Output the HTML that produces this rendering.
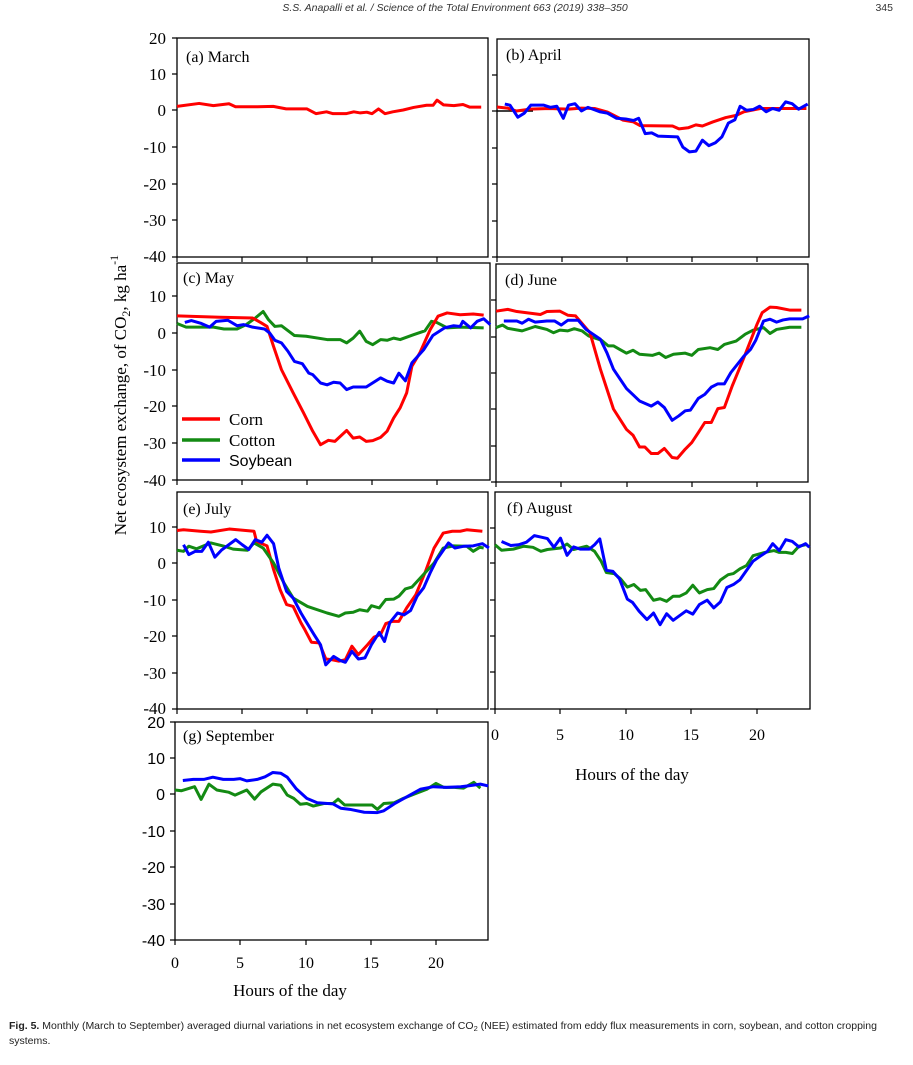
<!DOCTYPE html>
<html><head><meta charset="utf-8"><style>
html,body{margin:0;padding:0;background:#fff;}
svg{display:block;}
.s{font-family:"Liberation Serif",serif;}
.a{font-family:"Liberation Sans",sans-serif;}
.ln{fill:none;stroke-width:3;stroke-linejoin:round;}
</style></head><body>
<svg width="913" height="1065" viewBox="0 0 913 1065" xmlns="http://www.w3.org/2000/svg">
<rect width="913" height="1065" fill="#fff"/>
<text x="455" y="11" text-anchor="middle" font-family="Liberation Sans, sans-serif" font-style="italic" font-size="10.5" fill="#333">S.S. Anapalli et al. / Science of the Total Environment 663 (2019) 338–350</text>
<text x="893" y="11" text-anchor="end" font-family="Liberation Sans, sans-serif" font-size="10.5" fill="#333">345</text>

<g fill="none" stroke="#000" stroke-width="1.3">
<rect x="177" y="38" width="311" height="219"/>
<rect x="497" y="39" width="312" height="218"/>
<rect x="177" y="263" width="313" height="217"/>
<rect x="496" y="264" width="312" height="218"/>
<rect x="177" y="492" width="311" height="217"/>
<rect x="495" y="492" width="315" height="217"/>
<rect x="175" y="722" width="313" height="218"/>
</g>
<g stroke="#000" stroke-width="1.2">
<path d="M172 38h5M172 74h5M172 110h5M172 147h5M172 184h5M172 220h5M172 257h5"/>
<path d="M177 257v5M242 257v5M307 257v5M372 257v5M437 257v5"/>
<path d="M492 75h5M492 111h5M492 148h5M492 184h5M492 221h5M492 257h5"/>
<path d="M497 257v5M562 257v5M627 257v5M692 257v5M757 257v5"/>
<path d="M172 296h5M172 333h5M172 370h5M172 406h5M172 443h5M172 480h5"/>
<path d="M177 480v5M242 480v5M307 480v5M372 480v5M437 480v5"/>
<path d="M491 300h5M491 337h5M491 373h5M491 409h5M491 446h5M491 482h5"/>
<path d="M496 482v5M561 482v5M627 482v5M692 482v5M757 482v5"/>
<path d="M172 527h5M172 563h5M172 600h5M172 636h5M172 673h5M172 709h5"/>
<path d="M177 709v5M242 709v5M307 709v5M372 709v5M437 709v5"/>
<path d="M490 528h5M490 563h5M490 600h5M490 636h5M490 672h5M490 709h5"/>
<path d="M495 709v5M560 709v5M626 709v5M691 709v5M757 709v5"/>
<path d="M170 722h5M170 758h5M170 794h5M170 831h5M170 867h5M170 904h5M170 940h5"/>
<path d="M175 940v5M240 940v5M306 940v5M371 940v5M436 940v5"/>
</g>
<g class="s" font-size="17" text-anchor="end" fill="#000">
<text x="166" y="44">20</text><text x="166" y="80">10</text><text x="166" y="116">0</text><text x="166" y="153">-10</text><text x="166" y="190">-20</text><text x="166" y="226">-30</text><text x="166" y="262">-40</text>
<text x="166" y="302">10</text><text x="166" y="339">0</text><text x="166" y="376">-10</text><text x="166" y="412">-20</text><text x="166" y="449">-30</text><text x="166" y="486">-40</text>
<text x="166" y="533">10</text><text x="166" y="569">0</text><text x="166" y="606">-10</text><text x="166" y="642">-20</text><text x="166" y="679">-30</text><text x="166" y="714">-40</text>
</g>
<g class="a" font-size="16" text-anchor="end" fill="#000">
<text x="165" y="728">20</text><text x="165" y="764">10</text><text x="165" y="800">0</text><text x="165" y="837">-10</text><text x="165" y="873">-20</text><text x="165" y="910">-30</text><text x="165" y="946">-40</text>
</g>
<g class="s" font-size="16" text-anchor="middle" fill="#000">
<text x="175" y="968">0</text><text x="240" y="968">5</text><text x="306" y="968">10</text><text x="371" y="968">15</text><text x="436" y="968">20</text>
<text x="495" y="740">0</text><text x="560" y="740">5</text><text x="626" y="740">10</text><text x="691" y="740">15</text><text x="757" y="740">20</text>
<text x="290" y="996" font-size="17">Hours of the day</text>
<text x="632" y="780" font-size="17">Hours of the day</text>
</g>
<text class="s" font-size="17" transform="translate(126,395) rotate(-90)" text-anchor="middle">Net ecosystem exchange, of CO<tspan font-size="12" dy="4">2</tspan><tspan dy="-4">, kg ha</tspan><tspan font-size="12" dy="-8">-1</tspan></text>
<g class="s" font-size="16" fill="#000">
<text x="186" y="62">(a) March</text>
<text x="506" y="60">(b) April</text>
<text x="183" y="283">(c) May</text>
<text x="505" y="285">(d) June</text>
<text x="183" y="514">(e) July</text>
<text x="507" y="513">(f) August</text>
<text x="183" y="741">(g) September</text>
</g>

<g transform="translate(177,110) scale(13,3.65)">
<polyline class="ln" stroke="#ff0000" vector-effect="non-scaling-stroke" points="0,-1 1.7,-1.8 2.8,-1.2 4,-1.7 4.5,-0.9 6.2,-0.9 7.4,-1 8.4,-0.3 10,-0.3 10.7,1 11.5,0.5 12,1 13,1 13.6,0.5 14.1,0.8 14.6,0.6 15,1 15.5,-0.3 16,1 16.6,0.5 17.4,0 18.2,-0.7 19.2,-1.3 19.7,-1.3 20,-2.7 20.5,-1.4 21.3,-1.2 22,-1.5 22.5,-0.8 23.4,-0.8"/>
</g>
<line x1="497" y1="111" x2="533" y2="111" stroke="#000" stroke-width="1.5"/>
<g transform="translate(497,111) scale(13,3.65)">
<polyline class="ln" stroke="#ff0000" vector-effect="non-scaling-stroke" points="0,-1.1 0.8,-0.8 1.5,0 2.5,-0.5 4,-0.7 5.5,-0.5 6.5,-0.8 7.5,-0.7 8.5,0.3 9.7,2.5 10.5,3 11,4 13.5,4.1 14,4.9 14.7,4.6 15.3,3.8 15.8,4.1 16.6,3 17.6,1.8 18.4,1.2 19,0.2 20.3,-0.7 22,-0.7 23.8,-0.7"/>
<polyline class="ln" stroke="#0000ff" vector-effect="non-scaling-stroke" points="0.6,-1.9 1,-1.6 1.6,1.7 2.1,0.6 2.6,-1.6 3.6,-1.6 4.1,-1 4.6,-1.3 5.1,2 5.5,-1.6 6,-2 6.5,0 7,-1 7.9,0.2 8.5,0.6 9.2,2 9.9,2.2 10.5,2.6 10.9,2 11.4,6.2 11.9,6 12.4,6.9 13.9,7.1 14.3,9.9 14.8,11.2 15.3,11 15.8,8 16.3,9.5 16.8,8.7 17.3,7.1 17.8,3.3 18.3,2.4 18.7,-1.3 19.2,-0.2 19.7,-0.4 20.2,-1.3 20.7,0.2 21.2,-0.7 21.7,-0.2 22.2,-2.5 22.7,-2 23.2,-0.5 23.9,-1.9"/>
</g>
<g transform="translate(177,333) scale(13.05,3.65)">
<polyline class="ln" stroke="#138a13" vector-effect="non-scaling-stroke" points="0,-2.6 0.7,-1.6 2.8,-1.6 3.6,-1.1 4.6,-1.1 5.3,-2.3 6,-4.1 6.6,-5.9 7,-3.7 7.5,-1.8 8,-2 9,0.7 9.9,0.9 11.5,1.8 12.5,1.8 13,2.7 13.5,1.4 14,-0.5 14.5,2.3 15,3.2 15.6,1.8 16.1,2 16.6,1.4 17.1,1.8 18.1,0.5 19,-0.6 19.5,-3.2 19.9,-2.9 20.7,-1.4 21.7,-1.6 23.5,-1.4"/>
<polyline class="ln" stroke="#ff0000" vector-effect="non-scaling-stroke" points="0,-4.7 3.3,-4.3 5.8,-4.1 6.4,-2.9 6.9,-1.8 7.4,3.7 8,10 8.9,16.4 9.7,21.9 10.4,26.9 11,30.6 11.6,29.4 12.1,29.7 13,26.7 13.5,28.8 14,28.5 14.5,29.7 15,29.5 15.6,28.6 16.1,26.9 16.6,23.3 17.1,20.5 17.6,16.4 18,9.1 18.6,5.5 19.4,-0.9 20,-4.6 20.7,-5.5 21.7,-5 22.7,-5.2 23.5,-4.9"/>
<polyline class="ln" stroke="#0000ff" vector-effect="non-scaling-stroke" points="0.6,-2.9 1.1,-3.4 1.8,-2.7 2.5,-1.6 3,-3.2 3.9,-3.5 4.6,-2 5.1,-2.3 5.8,-1.6 6.7,-1.1 7.1,0 7.5,2 8,2.7 8.5,5 9,7.8 9.6,8.4 10.1,11 10.4,11.4 11,13.7 11.5,14.2 12,13.5 12.5,13.7 13,15.5 13.5,14.8 14.5,14.8 15.6,12.3 16.1,13.2 16.6,13.7 17,11 17.5,13.1 18,8.2 18.9,4.6 19.6,0.7 20.5,-1.4 21.2,-2 21.7,-1.8 21.9,-3.2 22.5,-1.4 23,-3.2 23.5,-3.9 24,-2.3"/>
</g>
<g stroke-width="3.5">
<line x1="182" y1="419" x2="220" y2="419" stroke="#ff0000"/>
<line x1="182" y1="440" x2="220" y2="440" stroke="#138a13"/>
<line x1="182" y1="460" x2="220" y2="460" stroke="#0000ff"/>
</g>
<text class="s" x="229" y="425" font-size="17">Corn</text>
<text class="s" x="229" y="446" font-size="17">Cotton</text>
<text class="a" x="229" y="466" font-size="16">Soybean</text>
<g transform="translate(496,336) scale(13.05,3.65)">
<polyline class="ln" stroke="#138a13" vector-effect="non-scaling-stroke" points="0,-2.3 0.5,-3 0.9,-2.1 2,-1.4 3,-2.6 3.9,-1.8 4.4,-0.9 4.9,-1.6 5.5,-1.4 6,-2 6.6,-1.4 7.1,0 8.1,1.2 8.6,2.7 9,2.7 9.5,3.7 10,4.7 10.5,3.9 11,5 12,5.3 12.5,4.7 13,5.9 13.6,5 14.5,4.7 15,5.3 15.5,3.7 16.4,3.2 17,3.7 17.5,2.3 18.4,1.4 19.1,-0.5 19.7,-1.6 20.5,-2.3 21,-0.7 21.5,-1.8 22.5,-2.4 23.4,-2.4"/>
<polyline class="ln" stroke="#ff0000" vector-effect="non-scaling-stroke" points="0,-6.8 0.9,-7.3 1.6,-6.7 3.4,-5.9 3.9,-6.7 4.9,-6.8 5.5,-5.7 6.1,-5.5 7.2,-0.9 8,9.1 9,20 10,25.6 10.5,27.2 11,30.4 11.4,30.4 11.9,32.2 12.4,32.2 12.9,30.8 13.5,33.3 13.9,33.5 14.5,31 15,29.2 15.5,26.5 16,23.7 16.5,23.7 17,19.9 17.5,19.6 18.1,13.7 19,5.9 20,-3.2 20.4,-6.4 21,-7.9 21.5,-7.8 22.5,-7.1 23.4,-7.1"/>
<polyline class="ln" stroke="#0000ff" vector-effect="non-scaling-stroke" points="0.6,-4.1 1.6,-4.1 2,-3.5 2.5,-4.6 3,-3.8 3.9,-4.1 4.5,-4.1 5,-3 5.5,-4.3 6.3,-4.3 6.9,-1.8 8,0.9 8.5,4.6 9,9.1 10,14.4 11,17.8 11.9,19.2 12.4,18.1 12.9,19.6 13.5,23.1 14,21.9 14.5,20.5 14.9,20.3 15.5,17.1 16,16 16.5,14 17,13.1 17.5,13.1 18,10 19,5.5 19.5,3.7 19.9,1.2 20.5,-4.1 21,-4.6 21.5,-3.8 22,-4.4 22.5,-4.7 23.5,-4.7 24,-5.5"/>
</g>
<g transform="translate(177,563) scale(13.05,3.65)">
<polyline class="ln" stroke="#ff0000" vector-effect="non-scaling-stroke" points="0,-8.9 0.5,-9.1 1.8,-8.7 2.6,-8.5 4,-9.3 5.9,-8.7 6.1,-5.9 6.9,-4.7 7.4,1.8 7.9,7.3 8.4,11.4 8.9,11.9 9.5,16.4 9.8,18.3 10.3,21.7 10.9,21.9 11.4,26.3 11.9,26.5 12.4,26.9 12.9,26.5 13.4,22.8 13.9,25.1 14.6,22.4 15.1,20.3 15.6,19.6 16,16.6 16.5,16 17,16 17.6,12.3 18.3,8.7 19,2.7 19.7,-4.1 20.4,-8.2 21.1,-8.7 21.7,-8.7 22.2,-9.1 23.4,-8.7"/>
<polyline class="ln" stroke="#138a13" vector-effect="non-scaling-stroke" points="0,-3.5 0.5,-3.2 0.9,-4.6 1.5,-3.9 2.6,-5.5 3.6,-4.6 4.3,-3.8 5.4,-3.5 5.9,-5.5 6.6,-4.1 7.4,0 8.2,5.5 8.9,9.6 10,11.9 11.5,13.7 12.4,14.6 12.9,13.7 13.5,13.5 14,12.8 14.6,13.2 14.9,11.7 15.5,12.3 16,10 16.6,9.9 17,9.1 17.5,7.1 18,6.6 19.7,0 20.4,-4.1 21.2,-4.7 22.2,-4.6 22.7,-3.2 23.2,-4.3 23.5,-4.1"/>
<polyline class="ln" stroke="#0000ff" vector-effect="non-scaling-stroke" points="0.5,-5 0.9,-2.3 1.4,-3.2 1.9,-3.2 2.4,-5.7 2.9,-1.6 3.4,-3.5 4.5,-6.4 5,-5 5.5,-3.7 6,-6.4 6.5,-5.7 6.9,-7.6 7.4,-5.3 7.8,1.4 8.4,7.8 8.9,9.6 9.5,13.7 9.8,15.5 10.5,19.6 11,22.4 11.4,27.9 12,25.6 12.5,26.7 12.9,27.2 13.4,24.2 13.9,26.3 14.4,26 14.9,22.4 15.5,19 15.9,21.5 16.3,16.4 16.9,13.7 17.4,14.2 17.9,13 18.4,9.1 18.9,6.8 19.4,2.7 19.9,-0.9 20.8,-5.5 21.3,-4.1 22,-4.6 22.7,-4.7 23.4,-5.3 23.9,-4.1"/>
</g>
<g transform="translate(495,563) scale(13.1,3.65)">
<polyline class="ln" stroke="#138a13" vector-effect="non-scaling-stroke" points="0,-5 0.5,-3.5 1.4,-3.8 2.2,-4.6 2.9,-4.3 3.5,-3.2 4,-3.7 5,-4.1 5.5,-5.2 6,-3.7 7,-4.6 7.6,-3.2 8.1,-0.5 8.5,2.6 9.1,2.9 9.6,4.4 10.1,6.6 10.6,5.9 11.1,7.5 11.5,7.3 12.1,10.2 12.6,9.8 13.1,10.5 13.6,9.1 14.1,9.1 14.6,8.2 15.1,6.1 15.6,8.2 16.2,7.3 16.7,7 17.2,4.7 17.8,3.2 18.2,2.9 18.7,1.6 19.2,0.7 19.7,-2 20.6,-2.9 21.3,-3.4 21.7,-2.9 22.2,-2.9 22.7,-2.6 23.2,-4.6 23.7,-5"/>
<polyline class="ln" stroke="#0000ff" vector-effect="non-scaling-stroke" points="0.5,-5.9 1.2,-4.8 1.8,-5 2.4,-5.7 3,-7.5 3.5,-7.1 4,-6.7 4.5,-4.3 5,-6.8 5.5,-2.1 6,-4.4 6.5,-3.8 7.2,-3.8 7.6,-5 8,-6.6 8.5,2 9,2.3 9.5,4.3 10.1,9.9 10.5,10.8 11,13.2 11.6,15.5 12.1,13.7 12.6,16.9 13.1,13.9 13.6,15.7 14.6,13.1 15.1,14 15.6,11.4 16.2,10.2 16.7,12.3 17.2,10.7 17.7,6.7 18.2,5.9 18.7,4.6 19.7,-0.5 20.3,-2 20.8,-3.2 21.2,-5.3 21.7,-3.4 22.2,-6.4 22.7,-5.9 23.2,-4.4 23.7,-5.3 24,-4.3"/>
</g>
<g transform="translate(175,794) scale(13.05,3.65)">
<polyline class="ln" stroke="#138a13" vector-effect="non-scaling-stroke" points="0,-1.1 0.5,-0.9 1.5,-2 2,1.5 2.6,-2.7 3.2,-1.1 4.1,-0.5 4.6,0.3 5.5,-1.1 6.1,1.4 6.6,-0.6 7.5,-2.7 8.1,-2.4 8.6,0.3 9.1,1.2 9.6,2.8 10.1,2.6 10.6,3.3 11.4,2.6 12.1,2.6 12.5,1.4 13,3 14.5,3 15.1,3 15.5,4.2 16,2.6 16.8,2.4 17.5,1.2 18.5,-0.2 19.3,-1.3 20,-2.9 20.6,-1.8 21.4,-1.8 22.1,-1.6 22.9,-3.2 23.4,-1.6"/>
<polyline class="ln" stroke="#0000ff" vector-effect="non-scaling-stroke" points="0.6,-3.7 1.4,-4 2.2,-4 2.9,-4.6 3.7,-4 4.5,-4 5,-4.2 5.5,-3.6 6.3,-4 6.9,-4.7 7.5,-5.9 8.1,-5.7 8.6,-4.6 9.3,-1.4 10.1,1.2 10.9,2.4 12.1,2.7 12.7,3.9 13.4,4.2 14.5,5 15.5,5.1 16,4.6 16.8,2.7 17.8,0.7 18.8,-1.3 19.8,-2 20.8,-1.8 21.9,-2 22.6,-2.3 23.4,-2.7 24,-2.2"/>
</g>

<text x="9" y="1029" font-family="Liberation Sans, sans-serif" font-size="10.5" fill="#222"><tspan font-weight="bold">Fig. 5.</tspan> Monthly (March to September) averaged diurnal variations in net ecosystem exchange of CO<tspan font-size="7.5" dy="2">2</tspan><tspan dy="-2"> (NEE) estimated from eddy flux measurements in corn, soybean, and cotton cropping</tspan></text>
<text x="9" y="1044" font-family="Liberation Sans, sans-serif" font-size="10.5" fill="#222">systems.</text>
</svg>
</body></html>
